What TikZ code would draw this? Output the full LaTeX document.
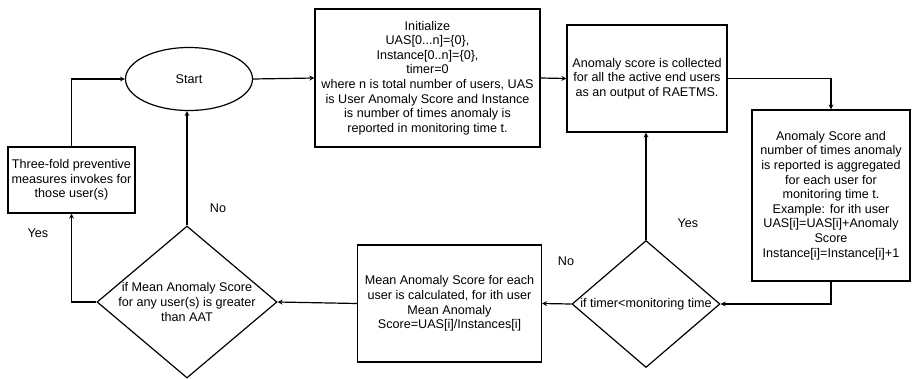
\documentclass[tikz,border=0pt]{standalone}
\usepackage{fontspec}
\setmainfont{Liberation Sans}
\usetikzlibrary{shapes.geometric}
\tikzset{
  box/.style={draw,line width=1.2pt,align=center,inner sep=1pt},
  decision/.style={draw,line width=1.2pt,diamond,align=center,inner xsep=-20pt,inner ysep=0pt,aspect=1.2},
  flow/.style={->,line width=1.2pt},
  tag/.style={inner sep=0pt}
}
\begin{document}
\begin{tikzpicture}[>=stealth,x=1pt,y=-1pt,font=\fontsize{12.6}{14.6}\selectfont]
  \useasboundingbox (0,0) rectangle (912,378);
  \node[box,ellipse,minimum width=127,minimum height=63] (start) at (189,79) {Start};
  \node[box,minimum width=225,minimum height=138] (init) at (427.5,78)
    {Initialize\\UAS[0...n]=\{0\},\\Instance[0..n]=\{0\},\\timer=0\\where n is total number of users, UAS\\is User Anomaly Score and Instance\\is number of times anomaly is\\reported in monitoring time t.};
  \node[box,minimum width=160,minimum height=107] (collect) at (647,78.5)
    {Anomaly score is collected\\for all the active end users\\as an output of RAETMS.};
  \node[box,minimum width=158,minimum height=171] (aggr) at (831,195.5)
    {Anomaly Score and\\number of times anomaly\\is reported is aggregated\\for each user for\\monitoring time t.\\Example: for ith user\\UAS[i]=UAS[i]+Anomaly\\Score\\Instance[i]=Instance[i]+1};
  \node[decision,minimum width=148,minimum height=127] (timer) at (646,304)
    {if timer<monitoring time};
  \node[box,minimum width=184,minimum height=117] (mean) at (449.5,303.5)
    {Mean Anomaly Score for each\\user is calculated, for ith user\\Mean Anomaly\\Score=UAS[i]/Instances[i]};
  \node[decision,minimum width=180,minimum height=152] (aat) at (187,302)
    {if Mean Anomaly Score\\for any user(s) is greater\\than AAT};
  \node[box,minimum width=127,minimum height=66] (three) at (71.5,180)
    {Three-fold preventive\\measures invokes for\\those user(s)};
  % labels
  \node[tag] (yes1) at (688,223) {Yes};
  \node[tag] (no1) at (566,261) {No};
  \node[tag] (no2) at (218,208) {No};
  \node[tag] (yes2) at (38,233) {Yes};
  % connectors
  \draw[flow] (start.east) -- (init.west);
  \draw[flow] (init.east) -- (collect.west);
  \draw[flow] (collect.east) -| (aggr.north);
  \draw[flow] (aggr.south) |- (timer.east);
  \draw[flow] (timer.north) -- (timer.north |- collect.south);
  \draw[flow] (timer.west) -- (mean.east);
  \draw[flow] (mean.west) -- (aat.east);
  \draw[flow] (aat.north) -- (aat.north |- start.south);
  \draw[flow] (aat.west) -| (three.south);
  \draw[flow] (three.north) |- (start.west);
\end{tikzpicture}
\end{document}
